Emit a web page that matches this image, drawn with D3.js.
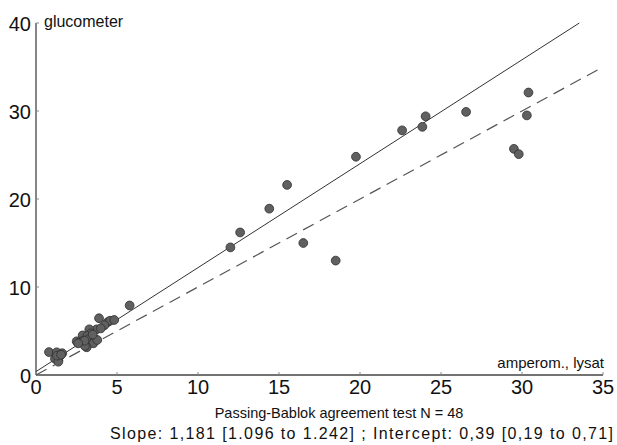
<!DOCTYPE html>
<html>
<head>
<meta charset="utf-8">
<script src="https://cdn.jsdelivr.net/npm/d3@7"></script>
<style>
  body { margin: 0; background: #fff; }
  text { font-family: "Liberation Sans", Arial, sans-serif; fill: #111; }
</style>
</head>
<body>
<div id="chart"></div>
<script>
// amperometric (lysate) vs glucometer readings
var xVals = [12.0, 12.6, 14.4, 15.5, 16.5, 18.5, 19.75, 22.6, 24.05, 23.85, 26.55, 30.4, 30.3, 29.5, 29.8,
  5.78, 3.89, 4.42, 4.57, 4.83, 4.22, 3.74, 3.29, 3.38, 2.88, 3.17, 3.44, 2.51, 2.72, 2.92, 3.23, 3.64,
  3.54, 3.78, 3.13, 3.02, 0.8, 1.28, 1.62, 1.48, 1.17, 1.38, 3.5, 3.0, 2.6, 4.0, 1.3, 1.55];
var yVals = [14.5, 16.2, 18.9, 21.6, 15.0, 13.0, 24.8, 27.8, 29.4, 28.2, 29.9, 32.1, 29.5, 25.7, 25.1,
  7.9, 6.45, 6.0, 6.17, 6.25, 5.65, 5.19, 5.19, 4.73, 4.5, 4.43, 4.36, 3.83, 3.75, 3.9, 4.06, 4.06,
  3.6, 3.98, 3.15, 3.3, 2.61, 2.58, 2.47, 2.16, 1.85, 1.51, 4.6, 3.9, 3.6, 5.3, 2.2, 2.3];
var xTicks = [0, 5, 10, 15, 20, 25, 30, 35];
var yTicks = [0, 10, 20, 30, 40];
var slope = 1.181, intercept = 0.39;

var w = 617, h = 445;
var x = d3.scaleLinear().domain([0, 35]).range([36, 603]);
var y = d3.scaleLinear().domain([0, 40]).range([375, 23]);

var svg = d3.select("#chart").append("svg").attr("width", w).attr("height", h);

// axes
svg.append("line").attr("x1", x(0)).attr("x2", x(35)).attr("y1", y(0)).attr("y2", y(0))
  .style("stroke", "#444").style("stroke-width", 1.3);
svg.append("line").attr("x1", x(0)).attr("x2", x(0)).attr("y1", y(0)).attr("y2", y(40))
  .style("stroke", "#444").style("stroke-width", 1.3);

svg.selectAll(".xt").data(xTicks).enter().append("line")
  .attr("x1", function (d) { return x(d); }).attr("x2", function (d) { return x(d); })
  .attr("y1", y(0)).attr("y2", y(0) - 3)
  .style("stroke", "#888").style("stroke-width", 1);
svg.selectAll(".yt").data(yTicks).enter().append("line")
  .attr("x1", x(0)).attr("x2", x(0) + 3)
  .attr("y1", function (d) { return y(d); }).attr("y2", function (d) { return y(d); })
  .style("stroke", "#888").style("stroke-width", 1);

svg.selectAll(".xl").data(xTicks).enter().append("text")
  .attr("x", function (d) { return x(d); })
  .attr("y", y(0) + 19)
  .attr("text-anchor", "middle")
  .style("font-size", "20px")
  .text(function (d) { return d; });
svg.selectAll(".yl").data(yTicks).enter().append("text")
  .attr("x", x(0) - 5)
  .attr("y", function (d) { return y(d) + 8; })
  .attr("text-anchor", "end")
  .style("font-size", "20px")
  .text(function (d) { return d; });

svg.append("text").attr("x", 44).attr("y", 27).style("font-size", "16px").text("glucometer");
svg.append("text").attr("x", 604).attr("y", 368).attr("text-anchor", "end")
  .style("font-size", "15px").text("amperom., lysat");

// identity line (dashed) and regression line (solid)
svg.append("line")
  .attr("x1", x(0)).attr("y1", y(0)).attr("x2", x(35)).attr("y2", y(35))
  .style("stroke", "#555").style("stroke-width", 1.2).style("stroke-dasharray", "12,7");
var xEnd = (40 - intercept) / slope;
svg.append("line")
  .attr("x1", x(0)).attr("y1", y(intercept)).attr("x2", x(xEnd)).attr("y2", y(40))
  .style("stroke", "#333").style("stroke-width", 1);

svg.selectAll("circle").data(xVals).enter().append("circle")
  .attr("cx", function (d) { return x(d); })
  .attr("cy", function (d, i) { return y(yVals[i]); })
  .attr("r", 4.4)
  .style("fill", "#606060")
  .style("stroke", "#2e2e2e")
  .style("stroke-width", 0.8);

svg.append("text").attr("x", 339).attr("y", 418).attr("text-anchor", "middle")
  .style("font-size", "14.5px").text("Passing-Bablok agreement test N = 48");
svg.append("text").attr("x", 110).attr("y", 439)
  .attr("textLength", 503).attr("lengthAdjust", "spacing")
  .style("font-size", "16px")
  .text("Slope: 1,181 [1.096 to 1.242] ;  Intercept: 0,39 [0,19 to 0,71]");
</script>
</body>
</html>
